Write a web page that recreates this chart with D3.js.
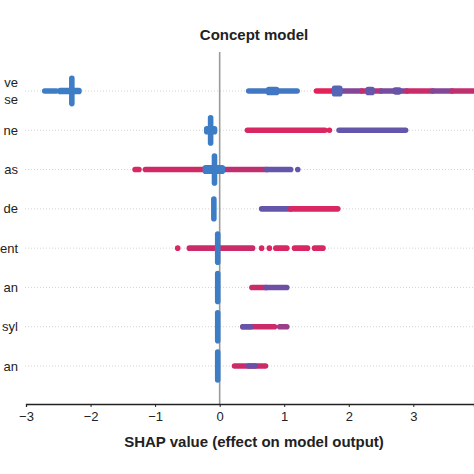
<!DOCTYPE html>
<html>
<head>
<meta charset="utf-8">
<script src="https://cdn.jsdelivr.net/npm/d3@7/dist/d3.min.js"></script>
<style>
  html, body { margin: 0; padding: 0; background: #fff; }
  svg { display: block; }
  text { font-family: "Liberation Sans", Arial, Helvetica, sans-serif; }
</style>
</head>
<body>
<svg id="chart" width="474" height="474"></svg>
<script>
// ---- data ----
const title = "Concept model";
const xLabel = "SHAP value (effect on model output)";
const featureLabels = [["ve", "se"], ["ne"], ["as"], ["de"], ["ent"], ["an"], ["syl"], ["an"]];
const xTicks = [-3, -2, -1, 0, 1, 2, 3];
const xDomain = [-3, 3.94];

// runs of dots: [featureIndex, shapStart, shapEnd, featureValue (0 low .. 1 high), stackedLayers]
const runsFeature0 = [
  [0, -2.71, -2.53, 0.0, 1],
  [0, -2.47, -2.18, 0.0, 1.2],
  [0, -2.29, -2.29, 0.0, 5.5],
  [0, 0.45, 1.20, 0.05, 1],
  [0, 0.76, 0.88, 0.05, 1.5],
  [0, 1.50, 1.80, 1.0, 1],
  [0, 1.80, 2.20, 0.6, 1],
  [0, 2.20, 2.50, 0.85, 1],
  [0, 2.50, 2.90, 0.55, 1],
  [0, 2.90, 3.30, 0.9, 1],
  [0, 3.30, 3.60, 0.6, 1],
  [0, 3.60, 3.95, 0.85, 1],
  [0, 1.78, 1.86, 0.25, 2.0],
  [0, 2.30, 2.36, 0.4, 1.5],
  [0, 2.72, 2.78, 0.45, 1.3]
];
const runsFeature1 = [
  [1, -0.14, -0.14, 0.0, 5.5],
  [1, -0.20, -0.08, 0.0, 1.5],
  [1, 0.43, 1.63, 0.95, 1],
  [1, 1.70, 1.70, 1.0, 1],
  [1, 1.85, 2.88, 0.42, 1]
];
const runsFeature2 = [
  [2, -1.31, -1.25, 0.95, 1],
  [2, -1.15, -0.15, 0.92, 1],
  [2, 0.00, 0.73, 0.85, 1],
  [2, 0.73, 1.10, 0.42, 1],
  [2, 1.21, 1.21, 0.42, 1],
  [2, -0.22, 0.04, 0.0, 1.6],
  [2, -0.08, -0.08, 0.0, 5.8]
];
const runsFeature3 = [
  [3, -0.09, -0.09, 0.0, 4.5],
  [3, 0.65, 1.10, 0.42, 1],
  [3, 1.10, 1.83, 0.95, 1]
];
const runsFeature4 = [
  [4, -0.65, -0.65, 0.95, 1],
  [4, -0.47, -0.02, 0.9, 1],
  [4, 0.00, 0.51, 0.9, 1],
  [4, 0.65, 0.65, 0.95, 1],
  [4, 0.77, 0.77, 0.95, 1],
  [4, 0.87, 1.04, 0.95, 1],
  [4, 1.16, 1.36, 0.95, 1],
  [4, 1.47, 1.60, 0.95, 1],
  [4, -0.03, -0.03, 0.0, 6]
];
const runsFeature5 = [
  [5, -0.03, -0.03, 0.0, 6],
  [5, 0.50, 0.72, 0.9, 1],
  [5, 0.72, 1.04, 0.5, 1]
];
const runsFeature6 = [
  [6, -0.03, -0.03, 0.0, 6],
  [6, 0.36, 0.85, 0.9, 1],
  [6, 0.36, 0.48, 0.45, 1],
  [6, 0.93, 1.04, 0.7, 1]
];
const runsFeature7 = [
  [7, -0.03, -0.03, 0.0, 6],
  [7, 0.23, 0.71, 0.9, 1],
  [7, 0.45, 0.55, 0.5, 1]
];

// ---- drawing ----
const svg = d3.select("#chart");
const W = 474, H = 474;

const x = d3.scaleLinear().domain(xDomain).range([26, 474]);
const y = d3.scalePoint().domain(d3.range(featureLabels.length)).range([91, 366]);
const color = d3.scaleLinear().domain([0, 0.5, 1]).range(["#3d7dc6", "#6c4fa6", "#e4225a"]).interpolate(d3.interpolateRgb);

// title
svg.append("text").attr("x", 254).attr("y", 40).attr("text-anchor", "middle")
  .attr("font-size", 15).attr("font-weight", "bold").attr("fill", "#222").text(title);

// dotted row lines
svg.append("g").selectAll("line").data(featureLabels).join("line")
  .attr("x1", 25).attr("x2", W)
  .attr("y1", (d, i) => y(i)).attr("y2", (d, i) => y(i))
  .attr("stroke", "#d4d4d4").attr("stroke-width", 1).attr("stroke-dasharray", "1,2");

// row labels
const lab = svg.append("g");
featureLabels.forEach((lines, i) => {
  const n = lines.length;
  lines.forEach((t, k) => {
    lab.append("text").attr("x", 18).attr("y", y(i) + (k - (n - 1) / 2) * 17)
      .attr("dy", "0.35em").attr("text-anchor", "end")
      .attr("font-size", 13).attr("fill", "#222").text(t);
  });
});

// zero line
svg.append("line").attr("x1", x(0)).attr("x2", x(0)).attr("y1", 52).attr("y2", 404)
  .attr("stroke", "#9a9a9a").attr("stroke-width", 1.6);

// dots (runs)
const r = 2.8;
const allRuns = [].concat(runsFeature0, runsFeature1, runsFeature2, runsFeature3,
  runsFeature4, runsFeature5, runsFeature6, runsFeature7);
svg.append("g").selectAll("rect").data(allRuns).join("rect")
  .attr("x", d => x(d[1]) - r)
  .attr("width", d => x(d[2]) - x(d[1]) + 2 * r)
  .attr("y", d => y(d[0]) - d[4] * r)
  .attr("height", d => d[4] * 2 * r)
  .attr("rx", r).attr("ry", r)
  .attr("fill", d => color(d[3]));

// x axis
const axis = d3.axisBottom(x).tickValues(xTicks).tickSize(3).tickPadding(5)
  .tickFormat(d => d < 0 ? "\u2212" + Math.abs(d) : String(d));
const ax = svg.append("g").attr("transform", "translate(0,404)").call(axis);
ax.select(".domain").attr("stroke", "#222").attr("stroke-width", 1.3);
ax.selectAll(".tick line").attr("stroke", "#222");
ax.selectAll(".tick text").attr("font-size", 13).attr("fill", "#222")
  .style("font-family", "'Liberation Sans', Arial, sans-serif");

svg.append("text").attr("x", 254).attr("y", 447).attr("text-anchor", "middle")
  .attr("font-size", 15).attr("font-weight", "bold").attr("fill", "#222").text(xLabel);
</script>
</body>
</html>
